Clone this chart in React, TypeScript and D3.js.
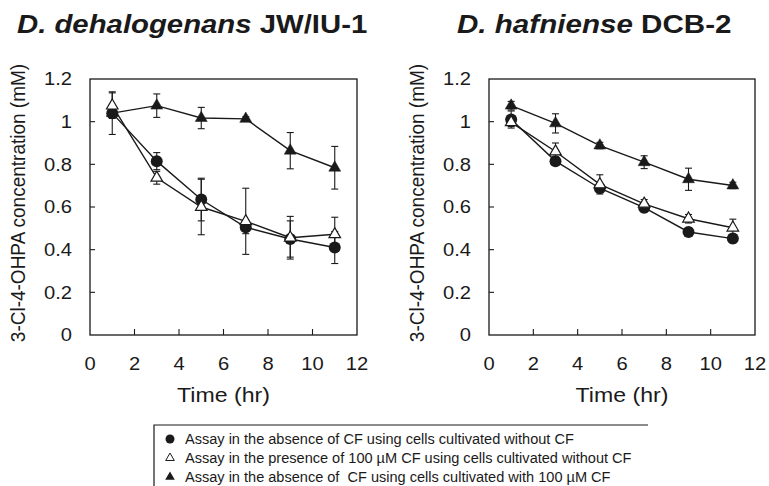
import React from "react";
import * as d3 from "d3";

const times = [1, 3, 5, 7, 9, 11];

// D. dehalogenans JW/IU-1
const dehCircle = [1.04, 0.815, 0.635, 0.505, 0.45, 0.41];
const dehCircleErr = [0.1, 0.04, 0.1, 0.03, 0.085, 0.075];
const dehOpen = [1.075, 0.737, 0.6, 0.533, 0.456, 0.472];
const dehOpenErr = [0.06, 0.03, 0.13, 0.155, 0.1, 0.08];
const dehFilled = [1.04, 1.075, 1.017, 1.013, 0.864, 0.784];
const dehFilledErr = [0.02, 0.055, 0.05, 0.01, 0.085, 0.1];

// D. hafniense DCB-2
const hafCircle = [1.01, 0.815, 0.688, 0.597, 0.483, 0.452];
const hafCircleErr = [0.04, 0.02, 0.02, 0.02, 0.02, 0.02];
const hafOpen = [0.997, 0.86, 0.706, 0.615, 0.545, 0.503];
const hafOpenErr = [0.02, 0.04, 0.045, 0.02, 0.02, 0.04];
const hafFilled = [1.075, 0.992, 0.888, 0.81, 0.73, 0.701];
const hafFilledErr = [0.02, 0.045, 0.015, 0.03, 0.052, 0.015];

const yTicks = [0, 0.2, 0.4, 0.6, 0.8, 1, 1.2];
const xTicks = [0, 2, 4, 6, 8, 10, 12];

const legendLabels = [
  "Assay in the absence of CF using cells cultivated without CF",
  "Assay in the presence of 100 \u00b5M CF using cells cultivated without CF",
  "Assay in the absence of  CF using cells cultivated with 100 \u00b5M CF",
];

const FONT = "'Liberation Sans', Arial, Helvetica, sans-serif";
const INK = "#1a1a1a";

const HText = ({ x, y, sx = 1.12, rotate = 0, children, ...rest }: any) => (
  <text
    transform={`translate(${x},${y}) scale(${sx},1)${rotate ? ` rotate(${rotate})` : ""}`}
    fontFamily={FONT}
    fill={INK}
    style={{ whiteSpace: "pre" }}
    {...rest}
  >
    {children}
  </text>
);

const triPath = (size: number) => d3.symbol().type(d3.symbolTriangle).size(size)()!;

const Panel = ({ left, right, series }: any) => {
  const top = 79;
  const bottom = 335;
  const x = d3.scaleLinear().domain([0, 12]).range([left, right]);
  const y = d3.scaleLinear().domain([0, 1.2]).range([bottom, top]);
  const line = d3
    .line<number>()
    .x((_, i) => x(times[i]))
    .y((d) => y(d));

  return (
    <g>
      <rect x={left} y={top} width={right - left} height={bottom - top} fill="none" stroke={INK} strokeWidth={1.3} />
      {yTicks.slice(1, -1).map((t) => (
        <line key={"yt" + t} x1={left} x2={left + 5} y1={y(t)} y2={y(t)} stroke={INK} strokeWidth={1.1} />
      ))}
      {xTicks.slice(1, -1).map((t) => (
        <line key={"xt" + t} x1={x(t)} x2={x(t)} y1={bottom} y2={bottom - 6} stroke={INK} strokeWidth={1.1} />
      ))}
      {yTicks.map((t) => (
        <HText key={"yl" + t} x={left - 18} y={y(t)} fontSize={18} textAnchor="end" dy="0.36em">
          {String(t)}
        </HText>
      ))}
      {xTicks.map((t) => (
        <HText key={"xl" + t} x={x(t)} y={370} fontSize={18} textAnchor="middle">
          {String(t)}
        </HText>
      ))}
      <HText x={(left + right) / 2} y={402} fontSize={21} sx={1.1} textAnchor="middle">
        Time (hr)
      </HText>
      <HText
        x={left - 73}
        y={203}
        fontSize={19}
        sx={1.1}
        rotate={-90}
        textAnchor="middle"
        dy="0.36em"
      >
        3-Cl-4-OHPA concentration (mM)
      </HText>

      {series.map((s: any, si: number) => (
        <path key={"ln" + si} d={line(s.values)!} fill="none" stroke={INK} strokeWidth={1.4} />
      ))}
      {series.map((s: any, si: number) =>
        s.values.map((v: number, i: number) => {
          const cx = x(times[i]);
          const y0 = y(v - s.err[i]);
          const y1 = y(v + s.err[i]);
          return (
            <g key={"eb" + si + "-" + i} stroke={INK} strokeWidth={1.1}>
              <line x1={cx} x2={cx} y1={y0} y2={y1} />
              <line x1={cx - 3.5} x2={cx + 3.5} y1={y0} y2={y0} />
              <line x1={cx - 3.5} x2={cx + 3.5} y1={y1} y2={y1} />
            </g>
          );
        })
      )}
      {series.map((s: any, si: number) =>
        s.values.map((v: number, i: number) => {
          const cx = x(times[i]);
          const cy = y(v);
          if (s.kind === "circle")
            return <circle key={"m" + si + "-" + i} cx={cx} cy={cy} r={6} fill={INK} />;
          return (
            <path
              key={"m" + si + "-" + i}
              d={triPath(s.kind === "open" ? 58 : 62)}
              transform={`translate(${cx},${cy})`}
              fill={s.kind === "open" ? "#fff" : INK}
              stroke={INK}
              strokeWidth={s.kind === "open" ? 1.2 : 0.5}
            />
          );
        })
      )}
    </g>
  );
};

export default function App() {
  const dehSeries = [
    { kind: "circle", values: dehCircle, err: dehCircleErr },
    { kind: "filled", values: dehFilled, err: dehFilledErr },
    { kind: "open", values: dehOpen, err: dehOpenErr },
  ];
  const hafSeries = [
    { kind: "circle", values: hafCircle, err: hafCircleErr },
    { kind: "filled", values: hafFilled, err: hafFilledErr },
    { kind: "open", values: hafOpen, err: hafOpenErr },
  ];
  const legendY = d3.scaleLinear().domain([0, 2]).range([439, 477]);

  return (
    <svg
      width={769}
      height={486}
      style={{ position: "absolute", left: 0, top: 0, background: "#fff" }}
    >
      <HText x={17} y={33} fontSize={25.5} sx={1.15} fontWeight="bold">
        <tspan fontStyle="italic">D. dehalogenans</tspan> JW/IU-1
      </HText>
      <HText x={457} y={33} fontSize={25.5} sx={1.16} fontWeight="bold">
        <tspan fontStyle="italic">D. hafniense</tspan> DCB-2
      </HText>

      <Panel left={90} right={357} series={dehSeries} />
      <Panel left={489} right={755} series={hafSeries} />

      <path d="M154,490 V425 H648" fill="none" stroke={INK} strokeWidth={1.2} />
      {legendLabels.map((label, i) => {
        const ly = legendY(i);
        return (
          <g key={"lg" + i}>
            {i === 0 && <circle cx={170} cy={ly} r={4.5} fill={INK} />}
            {i === 1 && (
              <path d={triPath(32)} transform={`translate(170,${ly})`} fill="#fff" stroke={INK} strokeWidth={1} />
            )}
            {i === 2 && <path d={triPath(40)} transform={`translate(170,${ly})`} fill={INK} />}
            <HText x={185} y={ly} fontSize={14} sx={1.04} dy="0.36em">
              {label}
            </HText>
          </g>
        );
      })}
    </svg>
  );
}
